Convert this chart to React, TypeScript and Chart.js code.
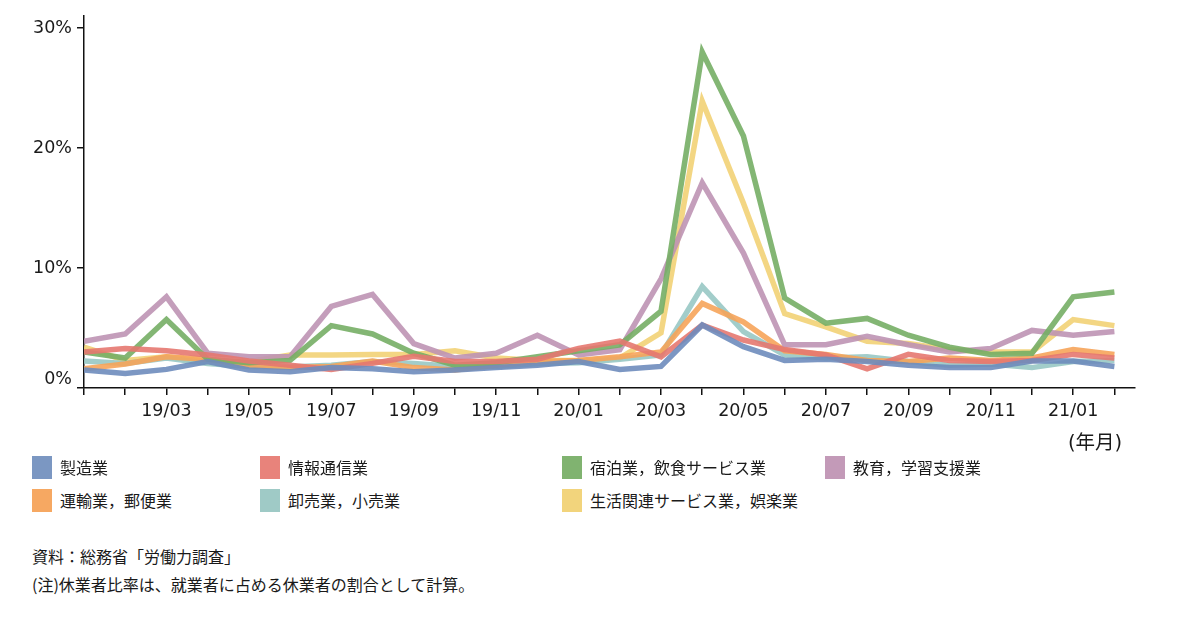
import React, { useEffect, useRef } from 'react';
import { Chart, registerables } from 'chart.js';

Chart.register(...registerables);

const months = [
  '19/01', '19/02', '19/03', '19/04', '19/05', '19/06', '19/07', '19/08', '19/09', '19/10', '19/11', '19/12',
  '20/01', '20/02', '20/03', '20/04', '20/05', '20/06', '20/07', '20/08', '20/09', '20/10', '20/11', '20/12',
  '21/01', '21/02',
];

const yTicks = [0, 10, 20, 30];

const manufacturing = [1.5, 1.2, 1.55, 2.2, 1.5, 1.35, 1.7, 1.6, 1.35, 1.5, 1.7, 1.9, 2.2, 1.55, 1.8, 5.25, 3.45, 2.3, 2.4, 2.2, 1.9, 1.7, 1.7, 2.25, 2.25, 1.8];
const infoComm = [3.0, 3.3, 3.1, 2.75, 2.25, 1.9, 1.55, 2.05, 2.65, 2.2, 2.2, 2.4, 3.3, 3.9, 2.6, 5.25, 4.0, 3.2, 2.75, 1.6, 2.8, 2.3, 2.2, 2.3, 2.8, 2.5];
const hospitality = [3.0, 2.5, 5.7, 2.4, 2.1, 2.3, 5.2, 4.5, 2.9, 1.9, 2.1, 2.6, 3.1, 3.6, 6.4, 28.0, 21.0, 7.5, 5.4, 5.8, 4.4, 3.4, 2.8, 2.9, 7.6, 8.0];
const education = [3.9, 4.5, 7.6, 2.9, 2.6, 2.6, 6.8, 7.8, 3.7, 2.5, 2.9, 4.4, 2.75, 3.2, 9.1, 17.1, 11.25, 3.6, 3.6, 4.3, 3.6, 3.0, 3.3, 4.8, 4.4, 4.7];
const transport = [1.6, 2.0, 2.6, 2.4, 1.9, 1.7, 1.8, 2.25, 1.7, 1.5, 1.9, 2.2, 2.3, 2.6, 3.0, 7.05, 5.5, 3.1, 2.8, 2.3, 2.2, 2.5, 2.3, 2.5, 3.2, 2.8];
const retail = [2.25, 2.05, 2.5, 2.05, 1.8, 1.75, 1.9, 2.2, 2.05, 1.8, 1.8, 2.05, 2.1, 2.4, 2.75, 8.45, 4.7, 2.75, 2.5, 2.6, 2.2, 1.9, 2.0, 1.7, 2.2, 2.3];
const lifestyle = [3.4, 2.3, 2.6, 2.2, 2.2, 2.75, 2.75, 2.8, 2.8, 3.1, 2.5, 2.3, 2.3, 2.5, 4.6, 23.9, 15.4, 6.2, 5.1, 3.9, 3.7, 3.2, 3.0, 3.0, 5.7, 5.2];

const seriesNames = [
  '製造業',
  '情報通信業',
  '宿泊業，飲食サービス業',
  '教育，学習支援業',
  '運輸業，郵便業',
  '卸売業，小売業',
  '生活関連サービス業，娯楽業',
];
const seriesValues = [manufacturing, infoComm, hospitality, education, transport, retail, lifestyle];
const seriesColors = ['#7b97c2', '#e8837b', '#80b370', '#c39ab8', '#f6a862', '#9fcac6', '#f2d47c'];
const lineColors = [
  'rgba(110,140,188,0.9)',
  'rgba(230,120,112,0.9)',
  'rgba(118,174,101,0.9)',
  'rgba(190,148,180,0.9)',
  'rgba(246,164,90,0.9)',
  'rgba(152,200,196,0.9)',
  'rgba(242,210,118,0.9)',
];

const latinFont = "'DejaVu Sans', 'Noto Sans CJK JP', sans-serif";
const cjkFont = "'Noto Sans CJK JP', 'DejaVu Sans', sans-serif";
const textColor = '#1a1a1a';

const legendLayout = [
  { col: 32, row: 0 },
  { col: 260, row: 0 },
  { col: 562, row: 0 },
  { col: 825, row: 0 },
  { col: 32, row: 1 },
  { col: 260, row: 1 },
  { col: 562, row: 1 },
];

export default function App() {
  const canvasRef = useRef<HTMLCanvasElement | null>(null);

  useEffect(() => {
    const canvas = canvasRef.current;
    if (!canvas) return;
    const chart = new Chart(canvas, {
      type: 'line',
      data: {
        datasets: seriesNames.map((name, k) => ({
          label: name,
          data: seriesValues[k].map((v, i) => ({ x: i, y: v })),
          borderColor: lineColors[k],
          backgroundColor: lineColors[k],
          borderWidth: 5.5,
          pointRadius: 0,
          tension: 0,
          fill: false,
        })),
      },
      options: {
        responsive: false,
        animation: false,
        layout: { padding: { left: 0, right: 65, top: 16, bottom: 0 } },
        plugins: { legend: { display: false }, tooltip: { enabled: false } },
        scales: {
          x: {
            type: 'linear',
            min: 0,
            max: 25.5,
            afterBuildTicks: (s: any) => {
              s.ticks = months.map((_, i) => ({ value: i }));
            },
            afterFit: (s: any) => {
              s.height = 72;
            },
            ticks: {
              autoSkip: false,
              maxRotation: 0,
              padding: 6,
              color: textColor,
              font: { family: latinFont, size: 17.5 },
              callback: (v: any) => (v % 2 === 0 && v > 0 ? months[v] : ''),
            },
            grid: {
              display: true,
              drawOnChartArea: false,
              drawTicks: true,
              tickLength: 7,
              color: '#111',
              lineWidth: 1.5,
            },
            border: { display: true, color: '#111', width: 1.5 },
          },
          y: {
            min: 0,
            max: 31,
            afterBuildTicks: (s: any) => {
              s.ticks = yTicks.map((v) => ({ value: v }));
            },
            afterFit: (s: any) => {
              s.width = 84;
            },
            ticks: {
              padding: 5,
              color: textColor,
              font: { family: latinFont, size: 17.5, lineHeight: 1.0 },
              callback: (v: any) => (v === 0 ? ['0%', ''] : `${v}%`),
            },
            grid: {
              display: true,
              drawOnChartArea: false,
              drawTicks: true,
              tickLength: 7,
              color: '#111',
              lineWidth: 1.5,
            },
            border: { display: true, color: '#111', width: 1.5 },
          },
        },
      },
    } as any);
    return () => chart.destroy();
  }, []);

  return (
    <div style={{ position: 'absolute', left: 0, top: 0, width: 1200, height: 626, background: '#fff', overflow: 'hidden' }}>
      <canvas ref={canvasRef} width={1200} height={460} style={{ position: 'absolute', left: 0, top: 0, width: 1200, height: 460 }} />
      <div
        style={{
          position: 'absolute',
          left: 1068,
          top: 431,
          fontFamily: latinFont,
          fontSize: 19.5,
          color: textColor,
          lineHeight: '24px',
          whiteSpace: 'nowrap',
        }}
      >
        (年月)
      </div>
      {seriesNames.map((name, k) => {
        const pos = legendLayout[k];
        const top = 455 + pos.row * 33;
        return (
          <div key={name} style={{ position: 'absolute', left: pos.col, top, height: 24, display: 'flex', alignItems: 'center', whiteSpace: 'nowrap' }}>
            <div style={{ width: 20, height: 23, background: seriesColors[k] }} />
            <span style={{ marginLeft: 8, fontFamily: cjkFont, fontSize: 16, color: textColor }}>{name}</span>
          </div>
        );
      })}
      <div style={{ position: 'absolute', left: 32, top: 542, fontFamily: cjkFont, fontSize: 16, color: textColor, lineHeight: '28px', whiteSpace: 'nowrap' }}>
        <div>資料：総務省「労働力調査」</div>
        <div>(注)休業者比率は、就業者に占める休業者の割合として計算。</div>
      </div>
    </div>
  );
}
